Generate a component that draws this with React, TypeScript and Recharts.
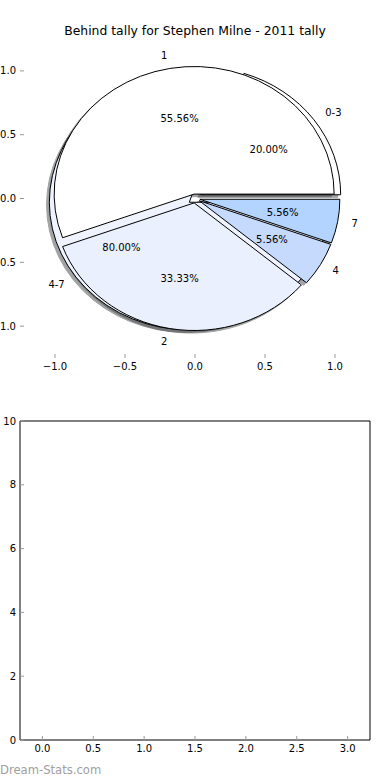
import React from 'react';
import { PieChart, Pie, Cell, Tooltip, ScatterChart, XAxis, YAxis } from 'recharts';

// ---------- data ----------
const titleText = 'Behind tally for Stephen Milne - 2011 tally';
const tallyNames = ['1', '2', '4', '7'];
const tallyCounts = [10, 6, 1, 1];
const tallyColors = ['#ffffff', '#eaf0fd', '#c6dafd', '#b2d4fe'];
const rangeNames = ['0-3', '4-7'];
const rangeCounts = [1, 4];
const rangeColors = ['#ffffff', '#eef3fd'];
const pieAxisTicks = [-1, -0.5, 0, 0.5, 1];
const emptyXTicks = [0, 0.5, 1, 1.5, 2, 2.5, 3];
const emptyYTicks = [0, 2, 4, 6, 8, 10];
const watermarkText = 'Dream-Stats.com';

const tallyData = tallyNames.map((label, i) => ({ label, count: tallyCounts[i] }));
const rangeData = rangeNames.map((label, i) => ({ label, count: rangeCounts[i] }));
const pieAxisRows = pieAxisTicks.map((v) => ({ x: v, y: v }));
const emptyAxisRows = emptyXTicks.map((v, i) => ({ x: v, y: emptyYTicks[Math.min(i, emptyYTicks.length - 1)] }));

// ---------- style ----------
const FONT = '"DejaVu Sans", "Bitstream Vera Sans", sans-serif';
const ASPECT = 127.6 / 140;
const EXPLODE_TALLY = 0.035;
const EXPLODE_RANGE = 0.05;
const SHADOW_OFFSET = 0.02;
const TICK_GRAY = '#999999';

const rad = (deg: number) => (deg * Math.PI) / 180;

const makeWedge = (explode: number, shadow: boolean) => (props: any) => {
  const { cx, cy, outerRadius, startAngle, endAngle, fill } = props;
  const midAngle = props.midAngle ?? (startAngle + endAngle) / 2;
  const rx = outerRadius;
  const ry = outerRadius * ASPECT;
  const m = rad(midAngle);
  let ox = cx + explode * rx * Math.cos(m);
  let oy = cy - explode * ry * Math.sin(m);
  if (shadow) {
    ox -= SHADOW_OFFSET * rx;
    oy += SHADOW_OFFSET * ry;
  }
  const a0 = rad(startAngle);
  const a1 = rad(endAngle);
  const x0 = ox + rx * Math.cos(a0);
  const y0 = oy - ry * Math.sin(a0);
  const x1 = ox + rx * Math.cos(a1);
  const y1 = oy - ry * Math.sin(a1);
  const large = Math.abs(endAngle - startAngle) > 180 ? 1 : 0;
  const sweep = endAngle > startAngle ? 0 : 1;
  const d = `M${ox},${oy}L${x0},${y0}A${rx},${ry} 0 ${large} ${sweep} ${x1},${y1}Z`;
  if (shadow) {
    return (
      <g opacity={0.5}>
        <path d={d} fill="rgb(70,71,74)" stroke="rgb(70,71,74)" strokeWidth={1} />
      </g>
    );
  }
  return <path d={d} fill={fill} stroke="#000000" strokeWidth={1} />;
};

const makeLabels = (explode: number) => (props: any) => {
  const { cx, cy, outerRadius, midAngle, percent } = props;
  const name = props.name ?? props.payload?.label;
  const rx = outerRadius;
  const ry = outerRadius * ASPECT;
  const m = rad(midAngle);
  const c = Math.cos(m);
  const s = Math.sin(m);
  const lx = explode * c + 1.1 * c;
  const ly = explode * s + 1.1 * s;
  const px = explode * c + 0.6 * c;
  const py = explode * s + 0.6 * s;
  return (
    <g>
      <text
        x={cx + lx * rx}
        y={cy - ly * ry}
        textAnchor={lx > 0 ? 'start' : 'end'}
        dominantBaseline="central"
        fontFamily={FONT}
        fontSize={10}
        fill="#000"
      >
        {name}
      </text>
      <text
        x={cx + px * rx}
        y={cy - py * ry}
        textAnchor="middle"
        dominantBaseline="central"
        fontFamily={FONT}
        fontSize={10}
        fill="#000"
      >
        {(percent * 100).toFixed(2)}%
      </text>
    </g>
  );
};

const tallyWedge = makeWedge(EXPLODE_TALLY, false);
const rangeWedge = makeWedge(EXPLODE_RANGE, false);
const tallyShadow = makeWedge(EXPLODE_TALLY, true);
const rangeShadow = makeWedge(EXPLODE_RANGE, true);
const tallyLabels = makeLabels(EXPLODE_TALLY);
const rangeLabels = makeLabels(EXPLODE_RANGE);

const tickFont = { fontSize: 10, fill: '#000', fontFamily: FONT };
const signed = (v: number) => (v < 0 ? '\u2212' : '') + Math.abs(v).toFixed(1);

const PIE_CX = 195;
const PIE_CY = 198.5;
const PIE_R = 140;

function PieLayer() {
  const common = {
    cx: PIE_CX,
    cy: PIE_CY,
    outerRadius: PIE_R,
    innerRadius: 0,
    startAngle: 0,
    endAngle: 360,
    dataKey: 'count',
    nameKey: 'label',
    isAnimationActive: false,
    labelLine: false,
  } as any;
  return (
    <PieChart width={390} height={390} margin={{ top: 0, right: 0, bottom: 0, left: 0 }}>
      <Tooltip
        defaultIndex={0}
        content={() => null}
        cursor={false}
        wrapperStyle={{ display: 'none' }}
        isAnimationActive={false}
      />
      <Pie {...common} data={rangeData} activeShape={rangeShadow} inactiveShape={rangeShadow} shape={rangeShadow} fill="#888" />
      <Pie {...common} data={tallyData} activeShape={tallyShadow} inactiveShape={tallyShadow} shape={tallyShadow} fill="#888" />
      <Pie {...common} data={rangeData} activeShape={rangeWedge} inactiveShape={rangeWedge} shape={rangeWedge}>
        {rangeData.map((d, i) => (
          <Cell key={d.label} fill={rangeColors[i]} />
        ))}
      </Pie>
      <Pie {...common} data={tallyData} activeShape={tallyWedge} inactiveShape={tallyWedge} shape={tallyWedge}>
        {tallyData.map((d, i) => (
          <Cell key={d.label} fill={tallyColors[i]} />
        ))}
      </Pie>
      <Pie {...common} data={rangeData} fill="none" stroke="none" label={rangeLabels} />
      <Pie {...common} data={tallyData} fill="none" stroke="none" label={tallyLabels} />
    </PieChart>
  );
}

type AxesProps = {
  rows: any[];
  width: number;
  height: number;
  margin: any;
  xDomain: [number, number];
  yDomain: [number, number];
  xTicks: number[];
  yTicks: number[];
  xFmt: (v: number) => string;
  yFmt: (v: number) => string;
  frame: boolean;
};

function Axes({ rows, width, height, margin, xDomain, yDomain, xTicks, yTicks, xFmt, yFmt, frame }: AxesProps) {
  const line = frame ? { stroke: '#000', strokeWidth: 1 } : false;
  const tl = { stroke: TICK_GRAY, strokeWidth: 1 };
  return (
    <ScatterChart width={width} height={height} margin={margin} data={rows}>
      <XAxis
        xAxisId="b"
        dataKey="x"
        type="number"
        orientation="bottom"
        domain={xDomain}
        allowDataOverflow
        ticks={xTicks}
        interval={0}
        tickFormatter={xFmt}
        height={20}
        axisLine={line as any}
        tickSize={-4}
        tickMargin={8.5}
        tickLine={tl}
        tick={tickFont}
      />
      <XAxis
        xAxisId="t"
        dataKey="x"
        type="number"
        orientation="top"
        domain={xDomain}
        allowDataOverflow
        ticks={xTicks}
        interval={0}
        height={1}
        axisLine={line as any}
        tickSize={-4}
        tickLine={tl}
        tick={false}
      />
      <YAxis
        yAxisId="l"
        dataKey="y"
        type="number"
        orientation="left"
        domain={yDomain}
        allowDataOverflow
        ticks={yTicks}
        interval={0}
        tickFormatter={yFmt}
        width={20}
        axisLine={line as any}
        tickSize={-4}
        tickMargin={8}
        tickLine={tl}
        tick={tickFont}
      />
      <YAxis
        yAxisId="r"
        dataKey="y"
        type="number"
        orientation="right"
        domain={yDomain}
        allowDataOverflow
        ticks={yTicks}
        interval={0}
        width={1}
        axisLine={line as any}
        tickSize={-4}
        tickLine={tl}
        tick={false}
      />
    </ScatterChart>
  );
}

export default function App() {
  return (
    <div style={{ position: 'absolute', left: 0, top: 0, width: 390, height: 780, background: '#fff', overflow: 'hidden' }}>
      <div style={{ position: 'absolute', left: 0, top: 0 }}>
        <PieLayer />
      </div>
      <div style={{ position: 'absolute', left: 0, top: 0, pointerEvents: 'none' }}>
        <Axes
          rows={pieAxisRows}
          width={390}
          height={390}
          margin={{ top: 38, right: 19, bottom: 12, left: 0 }}
          xDomain={[-1.25, 1.25]}
          yDomain={[-1.25, 1.25]}
          xTicks={pieAxisTicks}
          yTicks={pieAxisTicks}
          xFmt={signed}
          yFmt={signed}
          frame={false}
        />
      </div>
      <div style={{ position: 'absolute', left: 0, top: 400 }}>
        <Axes
          rows={emptyAxisRows}
          width={390}
          height={380}
          margin={{ top: 20, right: 19, bottom: 20, left: 0 }}
          xDomain={[-0.22, 3.22]}
          yDomain={[0, 10]}
          xTicks={emptyXTicks}
          yTicks={emptyYTicks}
          xFmt={(v: number) => v.toFixed(1)}
          yFmt={(v: number) => String(v)}
          frame={true}
        />
      </div>
      <svg width={390} height={780} style={{ position: 'absolute', left: 0, top: 0, pointerEvents: 'none' }}>
        <text x={195} y={30} textAnchor="middle" dominantBaseline="central" fontFamily={FONT} fontSize={12.4} fill="#000">
          {titleText}
        </text>
        <text x={0} y={770} dominantBaseline="central" fontFamily={FONT} fontSize={11.6} fill="#a0a0a0">
          {watermarkText}
        </text>
      </svg>
    </div>
  );
}
